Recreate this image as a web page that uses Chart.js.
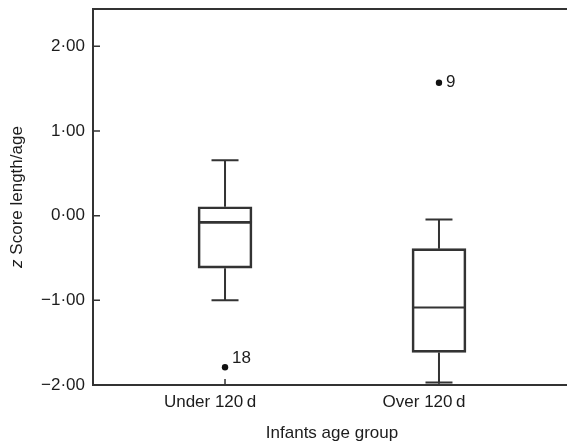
<!DOCTYPE html>
<html>
<head>
<meta charset="utf-8">
<script src="https://cdn.jsdelivr.net/npm/chart.js@4"></script>
<style>
  html, body { margin: 0; padding: 0; background: #fff; overflow: hidden; }
  #wrap { width: 575px; height: 446px; }
</style>
</head>
<body>
<div id="wrap"><canvas id="boxChart" width="575" height="446"></canvas></div>
<script>
// 그룹과 상자그림 값
const categories = ['Under 120\u2009d', 'Over 120\u2009d'];
const whiskerLow = [-1.00, -1.97];
const q1 = [-0.62, -1.615];
const median = [-0.08, -1.085];
const q3 = [0.105, -0.39];
const whiskerHigh = [0.655, -0.045];
// 이상치
const outlierGroup = [0, 1];
const outlierValues = [-1.79, 1.57];
const outlierLabels = ['18', '9'];
const yTicks = [-2, -1, 0, 1, 2];

const FONT = 'Liberation Sans, Arial, Helvetica, sans-serif';
const FS = 17;
const INK = '#1c1c1c';
const LINE = '#333333';

function fmtTick(v) {
  return (v < 0 ? '\u2212' : '') + Math.abs(v).toFixed(2).replace('.', '\u00b7');
}

// 수염, 중앙값, 테두리, 축 제목 그리기
const boxExtras = {
  id: 'boxExtras',
  afterDatasetsDraw(chart) {
    const { ctx, chartArea: a, scales: { x, y } } = chart;
    ctx.save();
    ctx.strokeStyle = LINE;
    ctx.lineCap = 'butt';

    categories.forEach((c, i) => {
      const px = x.getPixelForValue(i + 1);
      ctx.lineWidth = 2;
      ctx.beginPath();
      ctx.moveTo(px, y.getPixelForValue(q3[i]));
      ctx.lineTo(px, y.getPixelForValue(whiskerHigh[i]));
      ctx.moveTo(px, y.getPixelForValue(q1[i]));
      ctx.lineTo(px, y.getPixelForValue(whiskerLow[i]));
      ctx.moveTo(px - 13.5, y.getPixelForValue(whiskerHigh[i]));
      ctx.lineTo(px + 13.5, y.getPixelForValue(whiskerHigh[i]));
      ctx.moveTo(px - 13.5, y.getPixelForValue(whiskerLow[i]));
      ctx.lineTo(px + 13.5, y.getPixelForValue(whiskerLow[i]));
      ctx.stroke();
      // 중앙값
      ctx.lineWidth = i === 0 ? 2.6 : 2;
      ctx.beginPath();
      ctx.moveTo(px - 27, y.getPixelForValue(median[i]));
      ctx.lineTo(px + 27, y.getPixelForValue(median[i]));
      ctx.stroke();
    });

    // 이상치 번호
    ctx.fillStyle = INK;
    ctx.font = FS + 'px ' + FONT;
    ctx.textAlign = 'left';
    ctx.textBaseline = 'middle';
    outlierValues.forEach((v, k) => {
      const px = x.getPixelForValue(outlierGroup[k] + 1);
      const py = y.getPixelForValue(v);
      const lift = v < 0 ? 9 : 0;
      ctx.fillText(outlierLabels[k], px + 7, py - lift);
    });

    // 테두리 (왼쪽, 위, 아래)
    ctx.lineWidth = 2;
    ctx.strokeStyle = LINE;
    ctx.beginPath();
    ctx.moveTo(a.right, a.top);
    ctx.lineTo(a.left, a.top);
    ctx.lineTo(a.left, a.bottom);
    ctx.lineTo(a.right, a.bottom);
    ctx.stroke();

    // 안쪽 눈금
    ctx.lineWidth = 1.5;
    ctx.beginPath();
    yTicks.forEach(v => {
      const py = y.getPixelForValue(v);
      ctx.moveTo(a.left, py);
      ctx.lineTo(a.left + 7, py);
    });
    categories.forEach((c, i) => {
      const px = x.getPixelForValue(i + 1);
      ctx.moveTo(px, a.bottom);
      ctx.lineTo(px, a.bottom - 6);
    });
    ctx.stroke();

    // x축 제목
    ctx.textAlign = 'center';
    ctx.textBaseline = 'middle';
    ctx.fillText('Infants age group', (a.left + a.right) / 2, 433);

    // y축 제목 (z는 기울임)
    ctx.translate(17, (a.top + a.bottom) / 2);
    ctx.rotate(-Math.PI / 2);
    const italicZ = 'italic ' + FS + 'px ' + FONT;
    const plain = FS + 'px ' + FONT;
    const rest = ' Score length/age';
    ctx.font = italicZ;
    const wz = ctx.measureText('z').width;
    ctx.font = plain;
    const wr = ctx.measureText(rest).width;
    const start = -(wz + wr) / 2;
    ctx.textAlign = 'left';
    ctx.font = italicZ;
    ctx.fillText('z', start, 0);
    ctx.font = plain;
    ctx.fillText(rest, start + wz, 0);
    ctx.restore();
  }
};

const ctx = document.getElementById('boxChart').getContext('2d');
const boxChart = new Chart(ctx, {
  type: 'bar',
  data: {
    datasets: [{
      type: 'bar',
      data: categories.map((c, i) => ({ x: i + 1, y: [q1[i], q3[i]] })),
      backgroundColor: 'rgba(0,0,0,0)',
      borderColor: LINE,
      borderWidth: 2,
      borderSkipped: false,
      barThickness: 54,
    }, {
      type: 'scatter',
      data: outlierValues.map((v, k) => ({ x: outlierGroup[k] + 1, y: v })),
      pointRadius: 3.2,
      pointBackgroundColor: '#111',
      pointBorderWidth: 0,
    }],
  },
  options: {
    responsive: false,
    animation: false,
    layout: { padding: { top: 9, right: 4, left: 0, bottom: 0 } },
    plugins: { legend: { display: false }, tooltip: { enabled: false } },
    scales: {
      x: {
        type: 'linear',
        offset: false,
        min: 0.383,
        max: 2.617,
        afterBuildTicks: s => { s.ticks = categories.map((c, i) => ({ value: i + 1 })); },
        afterFit: s => { s.height = 61; s.paddingLeft = 0; s.paddingRight = 0; },
        ticks: {
          callback: v => categories[v - 1],
          color: INK,
          font: { family: FONT, size: FS },
          padding: 7,
          maxRotation: 0,
          labelOffset: -15,
        },
        grid: { display: false, drawTicks: false, offset: false },
        border: { display: false },
      },
      y: {
        min: -2,
        max: 2.44,
        afterBuildTicks: s => { s.ticks = yTicks.map(v => ({ value: v })); },
        afterFit: s => { s.width = 93; s.paddingTop = 0; s.paddingBottom = 0; },
        ticks: {
          callback: v => fmtTick(v),
          color: INK,
          font: { family: FONT, size: FS },
          padding: 8,
        },
        grid: { display: false, drawTicks: false },
        border: { display: false },
      },
    },
  },
  plugins: [boxExtras],
});
</script>
</body>
</html>
